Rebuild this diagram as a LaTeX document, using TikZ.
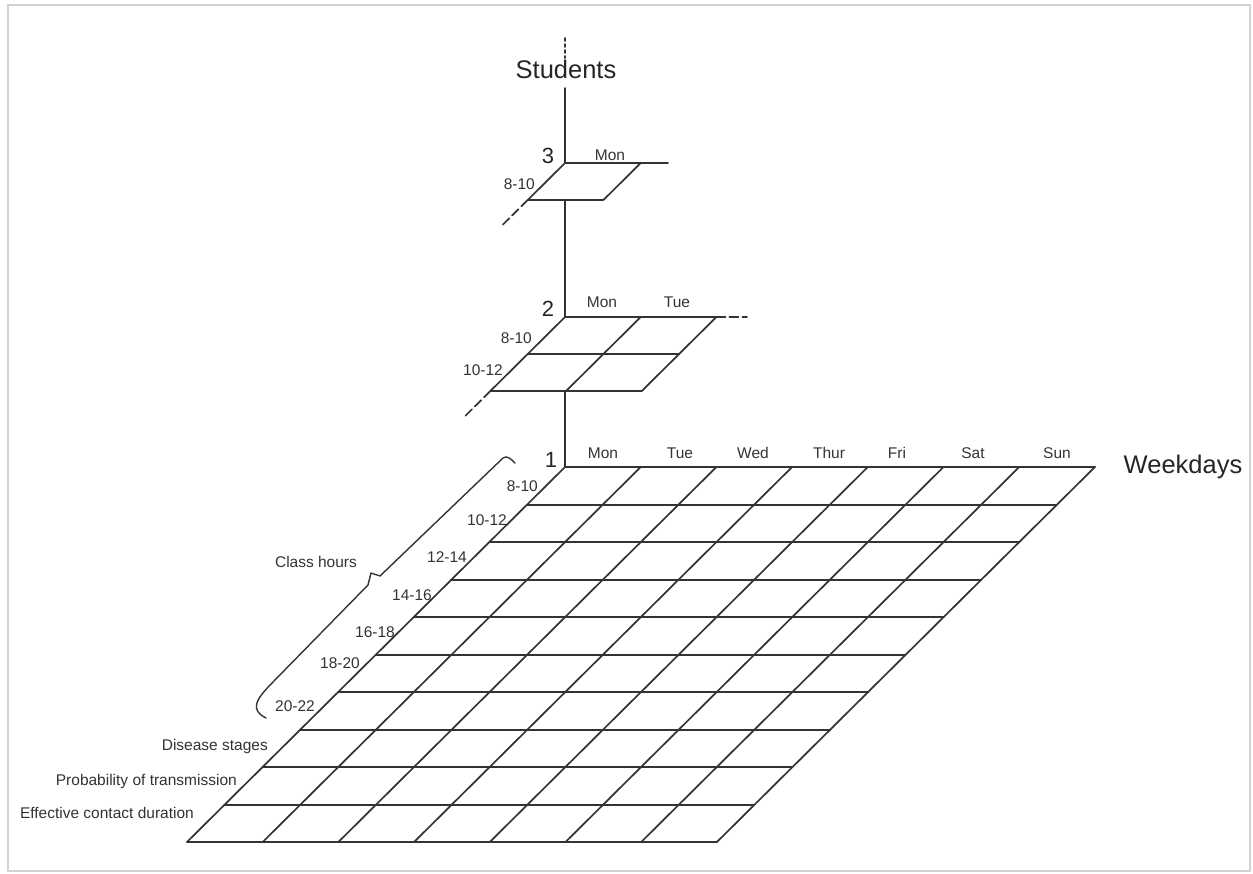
\documentclass[tikz,border=0pt]{standalone}
\usepackage{fontspec}
\setmainfont{Liberation Sans}
\begin{document}
\begin{tikzpicture}[x=1pt,y=-1pt,
  gl/.style={line width=1.7pt, draw=black!80, line cap=round, line join=round},
  dl/.style={gl, dash pattern=on 9pt off 4pt},
  sm/.style={font=\fontsize{15.5}{18}\selectfont, text=black!80, inner sep=0pt},
  big/.style={font=\fontsize{25.5}{30}\selectfont, text=black!85, inner sep=0pt},
  num/.style={font=\fontsize{22}{26}\selectfont, text=black!85, inner sep=0pt}]
\useasboundingbox (0,0) rectangle (1253,873);
\draw[gray!35, line width=2pt] (8,5) rectangle (1250,871);

% ---------- grid 1 (7 weekdays x 10 rows)
\foreach \y in {467,505,542,580,617,655,692,730,767,805,842}
  \draw[gl] ({565-(\y-467)*1.008},\y) -- ++(530,0);
\foreach \j in {0,...,7} \draw[gl] ({565+75.7*\j},467) -- ++(-378,375);

% ---------- grid 2 (2 x 2)
\foreach \y in {317,354,391}
  \draw[gl] ({565-(\y-317)*1.008},\y) -- ++(151.4,0);
\foreach \j in {0,1,2} \draw[gl] ({565+75.7*\j},317) -- ++(-74.6,74);
\draw[dl] (716.4,317) -- (747,317);
\draw[dl] (490.4,391) -- ++(-25,24.8);

% ---------- grid 3 (1 x 1)
\draw[gl] (565,163) -- (640.7,163) -- (603.4,200) -- (527.7,200) -- cycle;
\draw[gl] (640.7,163) -- (668,163);
\draw[dl] (527.7,200) -- ++(-25,24.8);

% ---------- students axis
\node[big, anchor=base] (students) at (566,78) {Students};
\coordinate (axtop) at (565,88);
\draw[gl] (axtop) -- (565,163);
\draw[gl] (565,200) -- (565,317);
\draw[gl] (565,391) -- (565,467);
\draw[gl, dash pattern=on 3pt off 3pt] (565,38) -- (565,58);

% ---------- axis labels
\node[big, anchor=base] (weekdays) at (1183,473) {Weekdays};
\node[num, anchor=base] (n3) at (548,163) {3};
\node[num, anchor=base] (n2) at (548,316) {2};
\node[num, anchor=base] (n1) at (551,467) {1};

% ---------- day headers
\foreach \d/\x in {Mon/603,Tue/680,Wed/753,Thur/829,Fri/897,Sat/973,Sun/1057}
  \node[sm, anchor=base] (h1-\d) at (\x,458) {\d};
\node[sm, anchor=base] (h2-Mon) at (602,307) {Mon};
\node[sm, anchor=base] (h2-Tue) at (677,307) {Tue};
\node[sm, anchor=base] (h3-Mon) at (610,160) {Mon};

% ---------- row labels grid 1
\foreach \t/\x/\y [count=\k] in {8-10/538/491,10-12/507/525,12-14/467/562,14-16/432/600,16-18/395/637,18-20/360/668,20-22/315/711}
  \node[sm, anchor=base east] (r1-\k) at (\x,\y) {\t};
\node[sm, anchor=base east] (r1-ds) at (268,750) {Disease stages};
\node[sm, anchor=base east] (r1-pt) at (237,785) {Probability of transmission};
\node[sm, anchor=base east] (r1-ec) at (194,818) {Effective contact duration};

% ---------- row labels grids 2 and 3
\node[sm, anchor=base east] (r2-1) at (532,343) {8-10};
\node[sm, anchor=base east] (r2-2) at (503,375) {10-12};
\node[sm, anchor=base east] (r3-1) at (535,189) {8-10};

% ---------- class hours brace
\draw[gl, line width=1.4pt] (266,718) .. controls (250,710) and (255,700) .. (273,682)
  -- (368,585) -- (371,573) -- (380,576) -- (503,458)
  .. controls (507,455) and (511,459) .. (515,463);
\node[sm, anchor=base] (classhours) at (316,567) {Class hours};
\end{tikzpicture}
\end{document}
